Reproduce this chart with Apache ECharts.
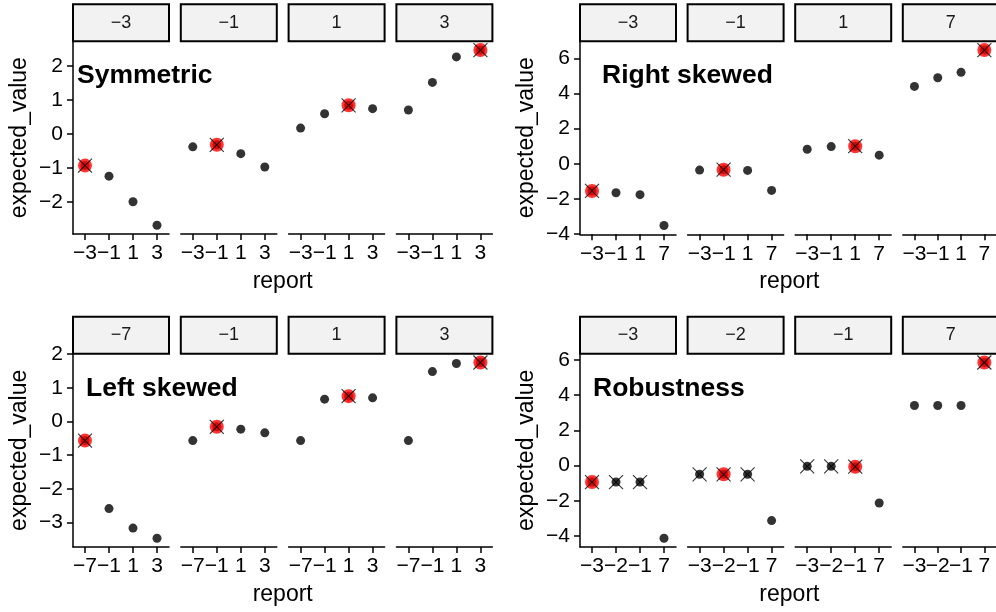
<!DOCTYPE html>
<html>
<head>
<meta charset="utf-8">
<script src="https://cdn.jsdelivr.net/npm/echarts@6/dist/echarts.min.js"></script>
<style>
  html, body { margin: 0; padding: 0; background: #fff; }
  #chart { width: 996px; height: 612px; }
</style>
</head>
<body>
<div id="chart"></div>
<script>
// ---- data ---------------------------------------------------------------
const panelTitles = ['Symmetric', 'Right skewed', 'Left skewed', 'Robustness'];

const symReports = [-3, -1, 1, 3];
const symFacets = [-3, -1, 1, 3];
const symValues = [
  [-0.93, -1.24, -1.99, -2.68],
  [-0.38, -0.32, -0.58, -0.97],
  [0.17, 0.59, 0.84, 0.74],
  [0.70, 1.51, 2.26, 2.46]
];
const symYTicks = [-2, -1, 0, 1, 2];

const rightReports = [-3, -1, 1, 7];
const rightFacets = [-3, -1, 1, 7];
const rightValues = [
  [-1.55, -1.65, -1.76, -3.52],
  [-0.36, -0.34, -0.38, -1.52],
  [0.83, 0.98, 1.00, 0.49],
  [4.41, 4.90, 5.21, 6.48]
];
const rightYTicks = [-4, -2, 0, 2, 4, 6];

const leftReports = [-7, -1, 1, 3];
const leftFacets = [-7, -1, 1, 3];
const leftValues = [
  [-0.57, -2.59, -3.17, -3.47],
  [-0.57, -0.16, -0.23, -0.34],
  [-0.57, 0.66, 0.75, 0.70],
  [-0.57, 1.48, 1.72, 1.75]
];
const leftYTicks = [-3, -2, -1, 0, 1, 2];

const robReports = [-3, -2, -1, 7];
const robFacets = [-3, -2, -1, 7];
const robValues = [
  [-0.93, -0.93, -0.93, -4.12],
  [-0.49, -0.49, -0.49, -3.12],
  [-0.04, -0.04, -0.06, -2.12],
  [3.42, 3.42, 3.42, 5.86]
];
const robYTicks = [-4, -2, 0, 2, 4, 6];
// report positions carrying a cross in each facet
const robCrossed = [[0, 1, 2], [0, 1, 2], [0, 1, 2], [3]];

// ---- layout ---------------------------------------------------------------
const FONT = "'Liberation Sans', Arial, Helvetica, sans-serif";
const TICK_SIZE = 21;
const FACET_W = 96;
const STRIP_H = 37;
const layout = [
  { left: 73, step: 107.8, top: 41.3, bottom: 234, titleX: 77, titleY: 76, xTitleY: 282 },
  { left: 580, step: 107.6, top: 41.3, bottom: 234.3, titleX: 602, titleY: 76, xTitleY: 282 },
  { left: 73, step: 107.8, top: 353.7, bottom: 547, titleX: 86, titleY: 389, xTitleY: 595 },
  { left: 580, step: 107.6, top: 353.7, bottom: 547, titleX: 593, titleY: 389, xTitleY: 595 }
];

const panels = [
  { reports: symReports, facets: symFacets, values: symValues, yTicks: symYTicks },
  { reports: rightReports, facets: rightFacets, values: rightValues, yTicks: rightYTicks },
  { reports: leftReports, facets: leftFacets, values: leftValues, yTicks: leftYTicks },
  { reports: robReports, facets: robFacets, values: robValues, yTicks: robYTicks, crossed: robCrossed }
];

const fmt = v => (v < 0 ? '\u2212' + Math.abs(v) : String(v));
const CROSS = 'path://M0,0L10,10M10,0L0,10';

const grids = [], xAxes = [], yAxes = [], series = [], graphics = [];

panels.forEach((p, pi) => {
  const L = layout[pi];
  const all = p.values.flat();
  const lo = Math.min(...all), hi = Math.max(...all);
  const pad = (hi - lo) * 0.05;
  const axisLine = { show: true, onZero: false, lineStyle: { color: '#000', width: 1.5 } };
  const cats = p.reports.map(fmt);

  p.facets.forEach((f, fi) => {
    const gi = grids.length;
    const left = L.left + fi * L.step;
    grids.push({ left: left, top: L.top, width: FACET_W, height: L.bottom - L.top });

    xAxes.push({
      type: 'category', gridIndex: gi, data: cats, boundaryGap: true,
      axisLine: axisLine,
      axisTick: { show: true, alignWithLabel: true, interval: 0, length: 6, lineStyle: { color: '#000', width: 1.5 } },
      axisLabel: {
        interval: 0, margin: 9, fontSize: TICK_SIZE, color: '#000', fontFamily: FONT,
        showMinLabel: true, showMaxLabel: true, hideOverlap: false
      },
      splitLine: { show: false }
    });

    yAxes.push({
      type: 'value', gridIndex: gi, min: lo - pad, max: hi + pad, show: fi === 0,
      axisLine: axisLine,
      axisTick: { show: true, customValues: p.yTicks, length: 6, lineStyle: { color: '#000', width: 1.5 } },
      axisLabel: {
        customValues: p.yTicks, formatter: fmt, margin: 10, fontSize: TICK_SIZE, color: '#000', fontFamily: FONT,
        showMinLabel: true, showMaxLabel: true, hideOverlap: false
      },
      splitLine: { show: false },
      name: fi === 0 ? 'expected_value' : '',
      nameLocation: 'middle', nameGap: 42,
      nameTextStyle: { fontSize: 23, color: '#000', fontFamily: FONT }
    });

    const vals = p.values[fi];
    const truth = p.reports.indexOf(f);
    const crossed = p.crossed ? p.crossed[fi].concat(truth >= 0 ? [truth] : []) : (truth >= 0 ? [truth] : []);

    series.push({
      type: 'scatter', xAxisIndex: gi, yAxisIndex: gi, silent: true,
      symbol: 'circle', symbolSize: 9, itemStyle: { color: '#000' },
      data: vals.map((v, ri) => [ri, v])
    });
    if (truth >= 0) {
      series.push({
        type: 'scatter', xAxisIndex: gi, yAxisIndex: gi, silent: true,
        symbol: 'circle', symbolSize: 14, itemStyle: { color: '#ff0000' },
        data: [[truth, vals[truth]]]
      });
    }
    series.push({
      type: 'scatter', xAxisIndex: gi, yAxisIndex: gi, silent: true,
      symbol: CROSS, symbolSize: 14,
      itemStyle: { color: 'none', borderColor: '#000', borderWidth: 1.1 },
      data: [...new Set(crossed)].map(ri => [ri, vals[ri]])
    });

    // facet strip
    graphics.push({
      type: 'rect', z: 10,
      shape: { x: left, y: L.top - STRIP_H, width: FACET_W, height: STRIP_H },
      style: { fill: '#f2f2f2', stroke: '#000', lineWidth: 2 }
    });
    graphics.push({
      type: 'text', z: 11,
      x: left + FACET_W / 2, y: L.top - STRIP_H / 2,
      style: { text: fmt(f), font: '18px ' + FONT, fill: '#1a1a1a', textAlign: 'center', textVerticalAlign: 'middle' }
    });
  });

  const span0 = L.left, span1 = L.left + 3 * L.step + FACET_W;
  graphics.push({
    type: 'text', z: 11, x: (span0 + span1) / 2, y: L.xTitleY,
    style: { text: 'report', font: '23px ' + FONT, fill: '#000', textAlign: 'center', textVerticalAlign: 'middle' }
  });
  graphics.push({
    type: 'text', z: 11, x: L.titleX, y: L.titleY,
    style: { text: panelTitles[pi], font: 'bold 26.5px ' + FONT, fill: '#000', textAlign: 'left', textVerticalAlign: 'middle' }
  });
});

const chart = echarts.init(document.getElementById('chart'), null, { renderer: 'canvas' });
chart.setOption({
  animation: false,
  backgroundColor: '#ffffff',
  grid: grids,
  xAxis: xAxes,
  yAxis: yAxes,
  series: series,
  graphic: graphics
});
</script>
</body>
</html>
